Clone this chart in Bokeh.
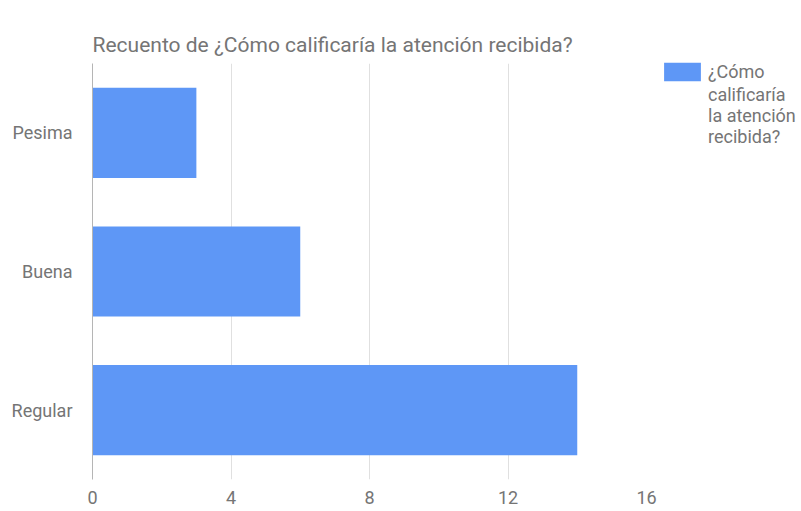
from bokeh.plotting import figure
from bokeh.models import (FactorRange, Range1d, FixedTicker, Legend, LegendItem,
                          ColumnDataSource)
from bokeh.embed import file_html
from bokeh.resources import INLINE

categories = ["Pesima", "Buena", "Regular"]
counts = [3, 6, 14]
x_ticks = [0, 4, 8, 12, 16]
title_text = "Recuento de ¿Cómo calificaría la atención recibida?"
series_name_lines = ["¿Cómo", "calificaría\nla atención\nrecibida?"]

BLUE = "#5e97f6"
GRAY_TEXT = "#757575"
FONT = "Roboto"

src = ColumnDataSource(dict(cat=categories, val=counts))

p = figure(
    y_range=FactorRange(factors=list(reversed(categories))),
    x_range=Range1d(0, 16),
    frame_width=554, frame_height=416,
    min_border_left=92, min_border_right=147,
    min_border_top=63, min_border_bottom=29,
    output_backend="svg", toolbar_location=None,
)
p.outline_line_color = None
p.background_fill_color = "white"
p.border_fill_color = "white"

xa = p.below[0]
ya = p.left[0]

r = p.hbar(y="cat", right="val", height=0.65, source=src, fill_color=BLUE, line_color=None)
# invisible renderer used only to continue the wrapped legend label
ghost = p.hbar(y=[], right=[], height=0.65, fill_alpha=0, line_alpha=0)

p.title.text = title_text
p.title.text_font = FONT
p.title.text_font_size = "21px"
p.title.text_font_style = "normal"
p.title.text_color = GRAY_TEXT
p.title.align = "left"
p.title.vertical_align = "top"
p.title.standoff = 10
p.title.padding = (0, 0, 25, 0)

# x axis
xa.ticker = FixedTicker(ticks=x_ticks)
xa.axis_line_color = None
xa.major_tick_line_color = None
xa.minor_tick_line_color = None
xa.major_label_text_font = FONT
xa.major_label_text_font_size = "18px"
xa.major_label_text_color = GRAY_TEXT
xa.major_label_standoff = 5

# y axis
ya.axis_line_color = "#b5b5b5"
ya.axis_line_width = 1
ya.major_tick_line_color = None
ya.minor_tick_line_color = None
ya.major_tick_out = 0
ya.major_label_text_font = FONT
ya.major_label_text_font_size = "18px"
ya.major_label_text_color = GRAY_TEXT
ya.major_label_standoff = 20

p.xgrid.ticker = FixedTicker(ticks=x_ticks[1:])
p.xgrid.grid_line_color = "#e0e0e0"
p.ygrid.grid_line_color = None

legend = Legend(items=[LegendItem(label=series_name_lines[0], renderers=[r]),
                       LegendItem(label=series_name_lines[1], renderers=[ghost])],
                location=(13, 332))
legend.margin = 0
legend.padding = 0
legend.spacing = 1
legend.border_line_color = None
legend.background_fill_alpha = 0
legend.glyph_width = 46
legend.glyph_height = 23
legend.label_height = 20
legend.label_standoff = 3
legend.label_text_font = FONT
legend.label_text_font_size = "18px"
legend.label_text_color = GRAY_TEXT
legend.label_text_line_height = 1.4
p.add_layout(legend, "right")

open("out.html", "w").write(file_html(p, INLINE))
